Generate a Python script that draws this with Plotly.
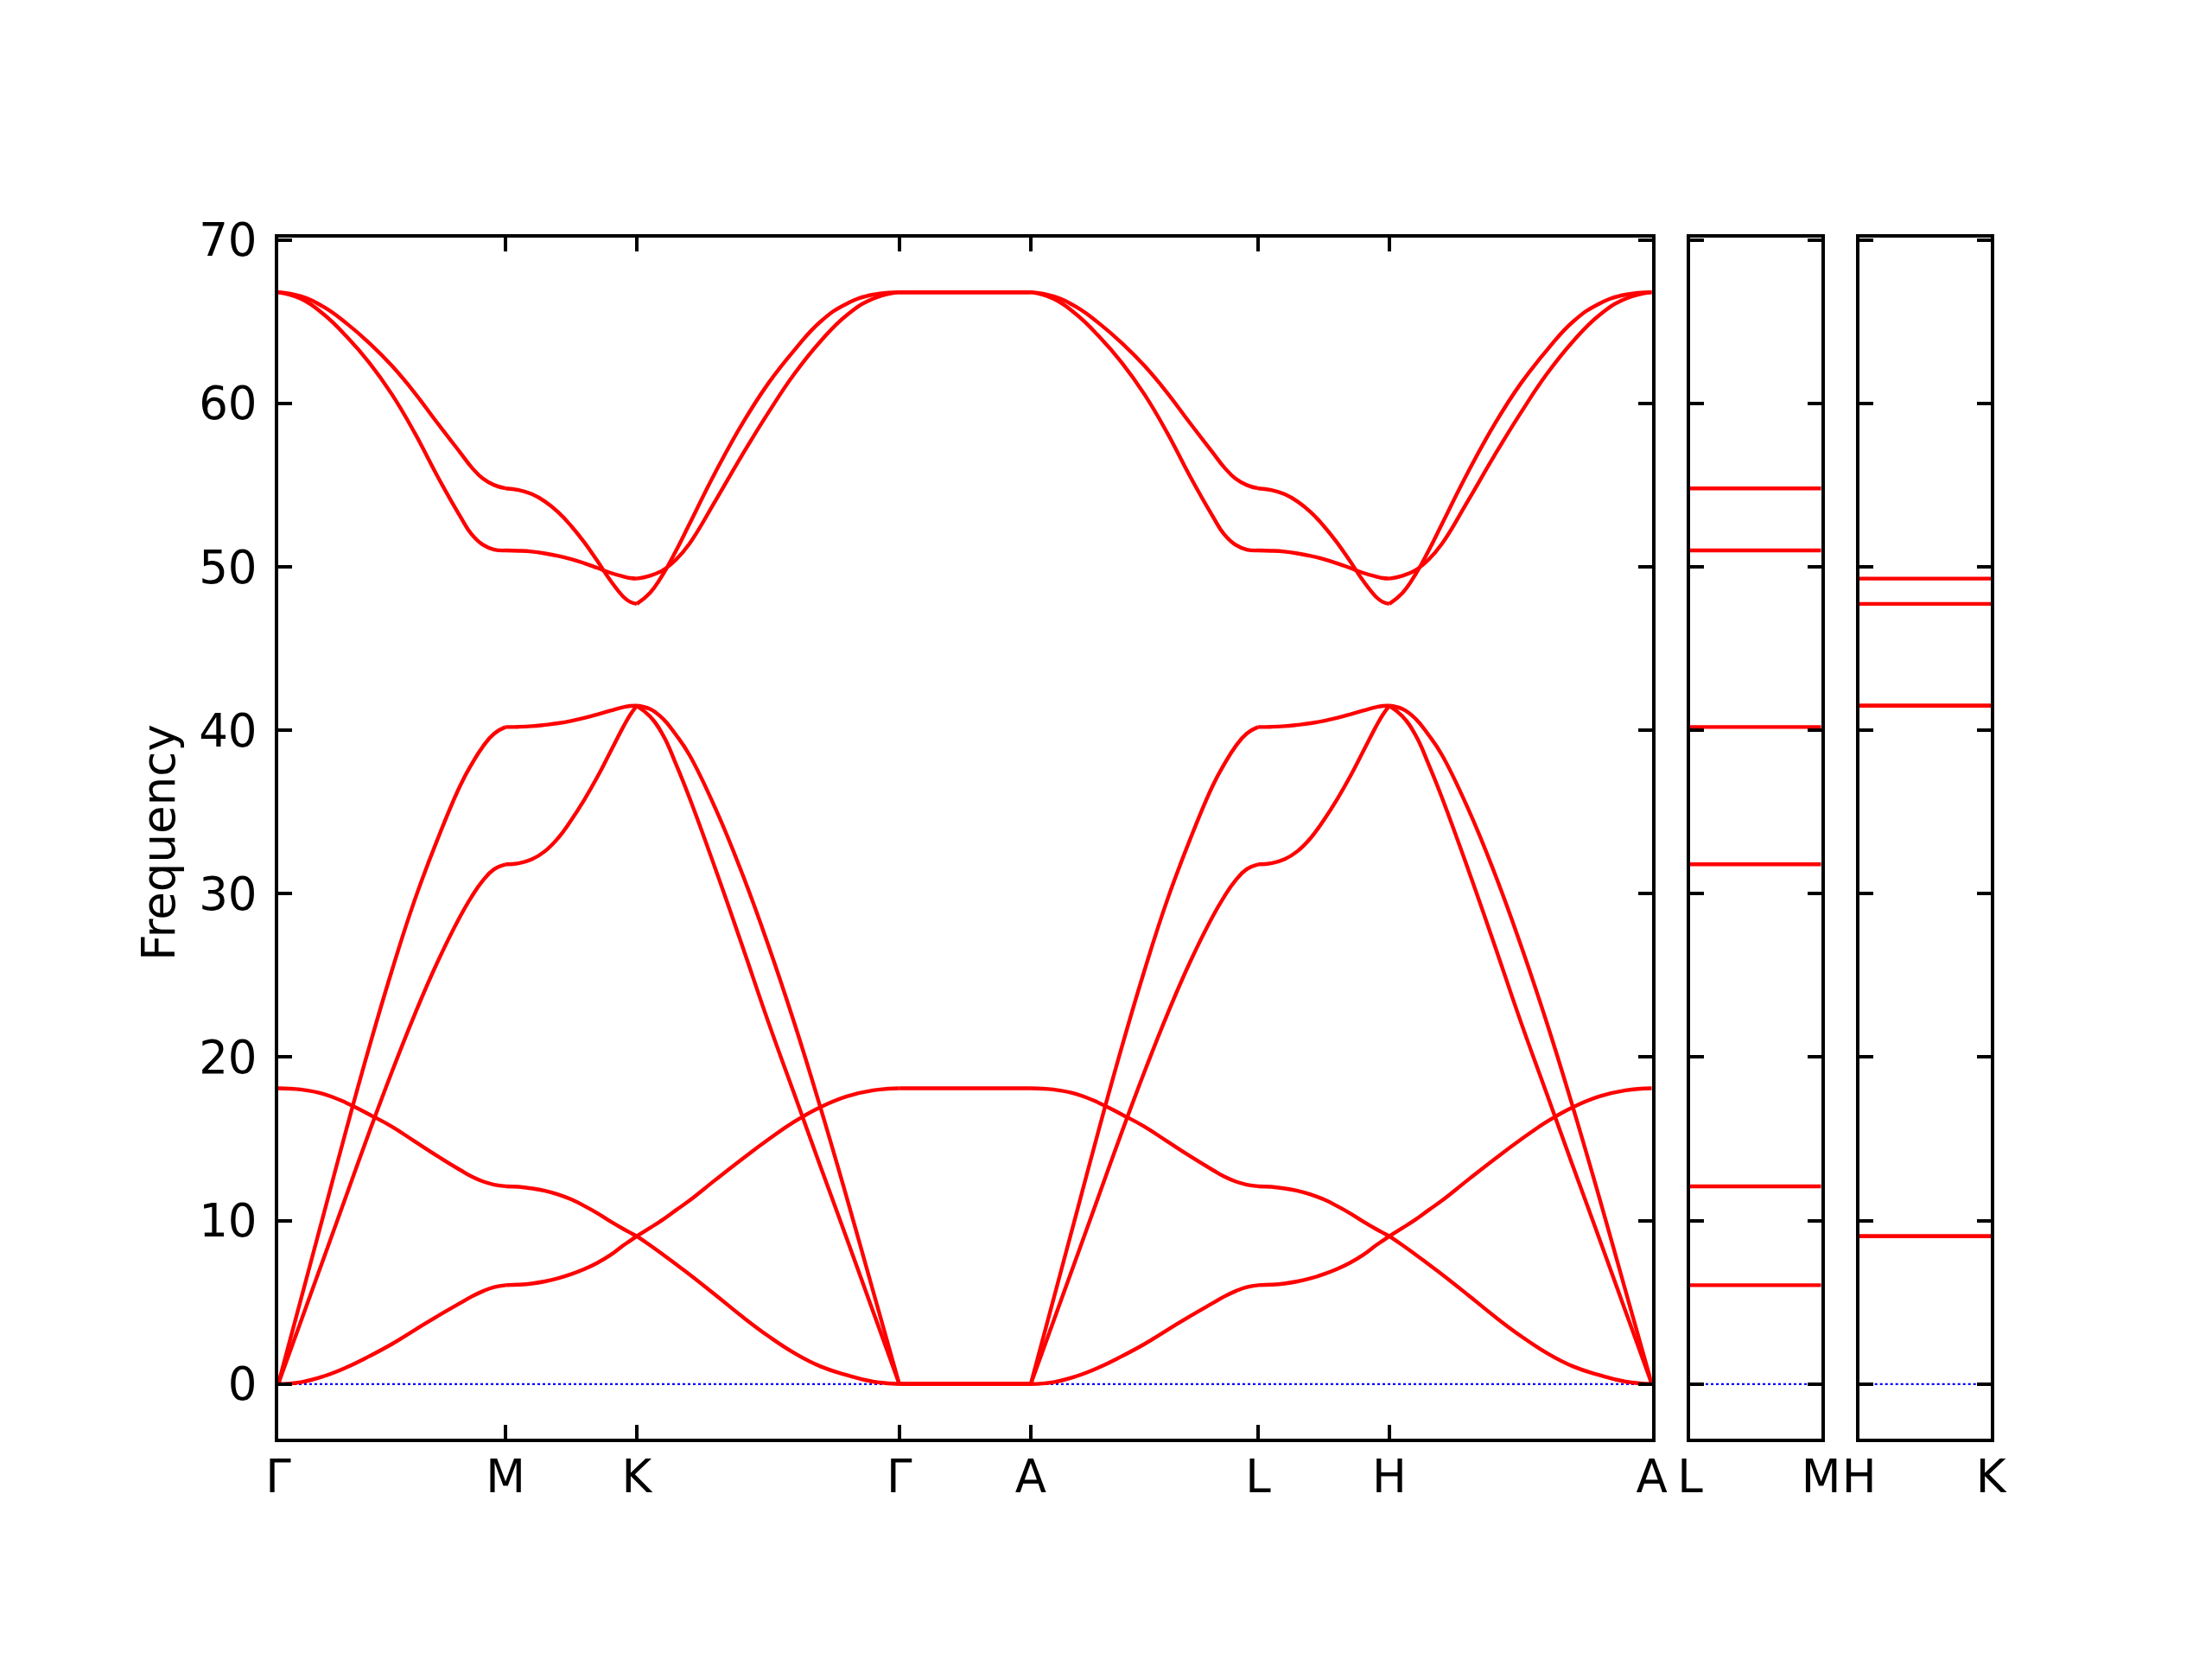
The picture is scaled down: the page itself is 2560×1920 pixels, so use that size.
import plotly.graph_objects as go

# ---------------- path / labels ----------------
seg_lengths = [0.5774, 0.3333, 0.6667, 0.3340, 0.5774, 0.3333, 0.6667]   # Γ-M, M-K, K-Γ, Γ-A, A-L, L-H, H-A
main_ticklabels = ["Γ", "M", "K", "Γ", "A", "L", "H", "A"]
lm_ticklabels = ["L", "M"]
lm_length = 0.3340
hk_ticklabels = ["H", "K"]
hk_length = 0.3340

ytick_values = [0, 10, 20, 30, 40, 50, 60, 70]
y_range = [-3.34, 70.14]

# fractional positions of the sampled points inside each segment
t_GM = [0, 0.1, 0.2, 0.3, 0.4, 0.5, 0.6, 0.7, 0.8, 0.85, 0.9, 0.95, 1.0]
t_MK = [0, 0.1, 0.2, 0.3, 0.4, 0.5, 0.6, 0.7, 0.8, 0.9, 0.95, 1.0]
t_KG = [0, 0.05, 0.1, 0.15, 0.2, 0.3, 0.4, 0.5, 0.6, 0.7, 0.8, 0.9, 1.0]
t_GA = [0, 1.0]

# ---------------- band frequencies ----------------
za_GM = [0, 0.12, 0.48, 1.02, 1.7, 2.45, 3.3, 4.15, 4.95, 5.35, 5.68, 5.93, 6.05]
za_MK = [6.05, 6.08, 6.15, 6.28, 6.47, 6.72, 7.03, 7.42, 7.9, 8.5, 8.77, 9.05]
za_KG = [9.05, 9.55, 10.07, 10.65, 11.22, 12.5, 13.75, 14.95, 16.05, 16.95, 17.6, 17.97, 18.1]
za_GA = [18.1, 18.1]

zo_GM = [18.1, 18.02, 17.75, 17.2, 16.5, 15.75, 14.85, 13.95, 13.1, 12.7, 12.4, 12.2, 12.1]
zo_MK = [12.1, 12.07, 11.97, 11.82, 11.6, 11.3, 10.9, 10.45, 9.95, 9.48, 9.26, 9.05]
zo_KG = [9.05, 8.5, 7.92, 7.32, 6.72, 5.45, 4.15, 2.95, 1.9, 1.08, 0.55, 0.15, 0]
zo_GA = [0, 0]

ta_GM = [0, 3.85, 7.7, 11.55, 15.4, 19.1, 22.6, 25.8, 28.6, 29.8, 30.8, 31.5, 31.8]
ta_MK = [31.8, 31.86, 32.1, 32.6, 33.4, 34.5, 35.75, 37.15, 38.7, 40.25, 40.95, 41.5]
ta_KG = [41.5, 40.85, 39.7, 37.9, 35.9, 31.5, 26.9, 22.2, 17.75, 13.3, 8.9, 4.45, 0]
ta_GA = [0, 0]

la_GM = [0, 5.2, 10.4, 15.6, 20.6, 25.3, 29.6, 33.3, 36.6, 37.9, 39.0, 39.8, 40.2]
la_MK = [40.2, 40.21, 40.25, 40.33, 40.43, 40.57, 40.75, 40.97, 41.2, 41.42, 41.49, 41.5]
la_KG = [41.5, 41.3, 40.7, 39.7, 38.5, 35.2, 31.3, 26.9, 22.1, 16.9, 11.4, 5.7, 0]
la_GA = [0, 0]

o1_GM = [66.8, 66.55, 65.9, 64.9, 63.7, 62.3, 60.65, 58.8, 57.0, 56.1, 55.4, 55.0, 54.8]
o1_MK = [54.8, 54.7, 54.45, 54.0, 53.35, 52.5, 51.5, 50.35, 49.15, 48.15, 47.85, 47.73]
o1_KG = [47.73, 48.4, 49.55, 51.0, 52.6, 55.8, 58.7, 61.2, 63.25, 65.0, 66.1, 66.65, 66.8]
o1_GA = [66.8, 66.8]

o2_GM = [66.8, 66.4, 65.45, 64.1, 62.5, 60.55, 58.2, 55.55, 53.1, 52.0, 51.35, 51.05, 51.0]
o2_MK = [51.0, 50.98, 50.93, 50.82, 50.67, 50.47, 50.22, 49.93, 49.63, 49.4, 49.31, 49.28]
o2_KG = [49.28, 49.45, 49.8, 50.45, 51.4, 54.05, 56.8, 59.4, 61.8, 63.8, 65.4, 66.4, 66.8]
o2_GA = [66.8, 66.8]

# flat bands of the side panels
lm_values = [6.05, 12.1, 31.8, 40.2, 51.0, 54.8]
hk_values = [9.05, 9.05, 41.5, 41.5, 47.73, 49.28]

bands = [
    (za_GM, za_MK, za_KG, za_GA),
    (zo_GM, zo_MK, zo_KG, zo_GA),
    (ta_GM, ta_MK, ta_KG, ta_GA),
    (la_GM, la_MK, la_KG, la_GA),
    (o1_GM, o1_MK, o1_KG, o1_GA),
    (o2_GM, o2_MK, o2_KG, o2_GA),
]

# ---------------- geometry ----------------
W, H = 2560, 1920
plot_left, plot_right = 322, 2304
plot_top, plot_bottom = 275, 1665
pw = plot_right - plot_left
dom_main = [0.0, (1911.7 - plot_left) / pw]
dom_lm = [(1956 - plot_left) / pw, (2107.7 - plot_left) / pw]
dom_hk = [(2151.7 - plot_left) / pw, 1.0]

starts = [0.0]
for L in seg_lengths:
    starts.append(starts[-1] + L)
total = starts[-1]

RED = "#ff0000"
LW = 4.4
FONT = "DejaVu Sans"
FS = 53

fig = go.Figure()

# zero lines (dotted blue)
for xa, ya, xmax in [("x", "y", total), ("x2", "y2", lm_length), ("x3", "y3", hk_length)]:
    fig.add_trace(go.Scatter(x=[0, xmax], y=[0, 0], mode="lines",
                             line=dict(color="blue", width=2.2, dash="dot"),
                             xaxis=xa, yaxis=ya, showlegend=False, hoverinfo="skip"))

for gm, mk, kg, ga in bands:
    seg_data = [(t_GM, gm), (t_MK, mk), (t_KG, kg), (t_GA, ga),
                (t_GM, gm), (t_MK, mk), (t_KG, kg)]
    xs, ys = [], []
    for (tt, vv), s0, L in zip(seg_data, starts[:-1], seg_lengths):
        xs += [s0 + t * L for t in tt] + [None]
        ys += list(vv) + [None]
    fig.add_trace(go.Scatter(x=xs, y=ys, mode="lines",
                             line=dict(color=RED, width=LW, shape="spline", smoothing=1.3),
                             connectgaps=False, xaxis="x", yaxis="y",
                             showlegend=False, hoverinfo="skip"))

for v in lm_values:
    fig.add_trace(go.Scatter(x=[0, lm_length], y=[v, v], mode="lines",
                             line=dict(color=RED, width=LW), xaxis="x2", yaxis="y2",
                             showlegend=False, hoverinfo="skip"))
for v in hk_values:
    fig.add_trace(go.Scatter(x=[0, hk_length], y=[v, v], mode="lines",
                             line=dict(color=RED, width=LW), xaxis="x3", yaxis="y3",
                             showlegend=False, hoverinfo="skip"))

common_axis = dict(showline=True, linewidth=3.6, linecolor="black", mirror="allticks",
                   ticks="inside", ticklen=16, tickwidth=3.6, tickcolor="black",
                   showgrid=False, zeroline=False,
                   tickfont=dict(family=FONT, size=FS, color="black"))

fig.update_layout(
    width=W, height=H,
    margin=dict(l=plot_left, r=W - plot_right, t=plot_top, b=H - plot_bottom, pad=0),
    paper_bgcolor="white", plot_bgcolor="white",
    font=dict(family=FONT, size=FS, color="black"),
    xaxis=dict(domain=dom_main, range=[0, total], tickvals=starts, ticktext=main_ticklabels,
               anchor="y", ticklabelstandoff=-5, **common_axis),
    yaxis=dict(domain=[0, 1], range=y_range, tickvals=ytick_values,
               ticktext=[str(v) for v in ytick_values], anchor="x",
               ticklabelstandoff=10, **common_axis),
    xaxis2=dict(domain=dom_lm, range=[0, lm_length], tickvals=[0, lm_length],
                ticktext=lm_ticklabels, anchor="y2", ticklabelstandoff=-5, **common_axis),
    yaxis2=dict(domain=[0, 1], range=y_range, tickvals=ytick_values, matches="y",
                showticklabels=False, anchor="x2", **common_axis),
    xaxis3=dict(domain=dom_hk, range=[0, hk_length], tickvals=[0, hk_length],
                ticktext=hk_ticklabels, anchor="y3", ticklabelstandoff=-5, **common_axis),
    yaxis3=dict(domain=[0, 1], range=y_range, tickvals=ytick_values, matches="y",
                showticklabels=False, anchor="x3", **common_axis),
    annotations=[dict(text="Frequency", xref="paper", yref="paper",
                      x=(183 - plot_left) / pw, y=(plot_bottom - 975) / (plot_bottom - plot_top),
                      xanchor="center", yanchor="middle", textangle=-90, showarrow=False,
                      font=dict(family=FONT, size=FS, color="black"))],
)

fig.write_html("out.html", config={"displayModeBar": False},
               post_script="document.body.style.margin='0';")
